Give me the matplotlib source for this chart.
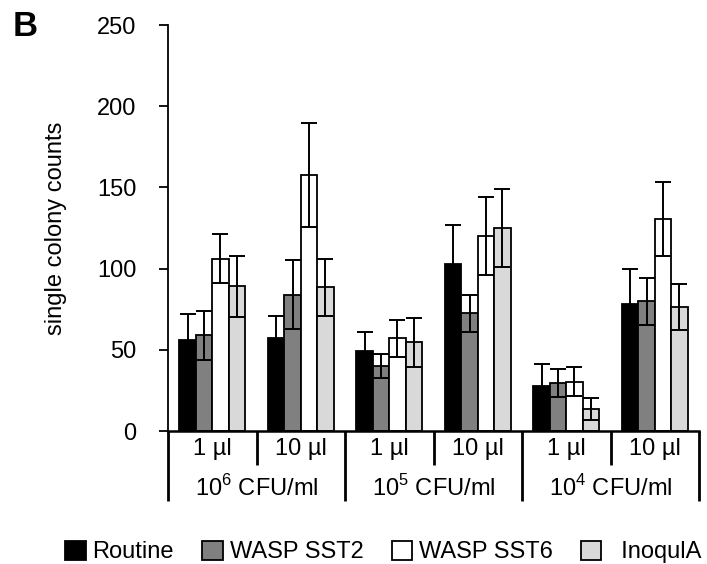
import matplotlib
matplotlib.use("Agg")
import matplotlib.pyplot as plt
import numpy as np
from matplotlib.patches import Patch

plt.rcParams['font.family'] = ['Liberation Sans', 'DejaVu Sans']
plt.rcParams['mathtext.fontset'] = 'custom'
plt.rcParams['mathtext.rm'] = 'Liberation Sans'

series = ["Routine", "WASP SST2", "WASP SST6", "InoqulA"]
colors = ["#000000", "#808080", "#ffffff", "#d9d9d9"]
volumes = ["1 µl", "10 µl", "1 µl", "10 µl", "1 µl", "10 µl"]
concentrations = [r"10$^6$ CFU/ml", r"10$^5$ CFU/ml", r"10$^4$ CFU/ml"]

routine = [56, 57, 49.5, 103, 27.7, 78]
routine_err = [16, 14, 11.5, 24, 13.3, 22]
sst2 = [59, 84, 40, 72.5, 29.3, 80]
sst2_err = [15, 21, 7.5, 11.5, 8.6, 14.5]
sst6 = [106, 157.5, 57, 120, 30.4, 130.5]
sst6_err = [15, 32, 11.5, 24, 8.8, 23]
inoqula = [89, 88.5, 54.5, 125, 13.5, 76.5]
inoqula_err = [19, 17.5, 15, 24, 6.6, 14]

values = [routine, sst2, sst6, inoqula]
errors = [routine_err, sst2_err, sst6_err, inoqula_err]

fig = plt.figure(figsize=(7.07, 5.64), dpi=100)
ax = fig.add_axes([168/707, 1-431/564, (699-168)/707, (431-25)/564])

x = np.arange(len(volumes))
w = 0.186
for i, (vals, errs, c) in enumerate(zip(values, errors, colors)):
    pos = x + (i - 1.5) * w
    ax.bar(pos, vals, width=w, color=c, edgecolor="black", linewidth=1.3, zorder=2)
    ax.errorbar(pos, vals, yerr=errs, fmt="none", ecolor="black", elinewidth=1.4,
                capsize=5.6, capthick=1.4, zorder=3)

ax.set_xlim(-0.5, len(volumes) - 0.5)
ax.set_ylim(0, 250)
ax.set_yticks([0, 50, 100, 150, 200, 250])
ax.tick_params(axis='y', labelsize=17, length=6.5, width=1.3, pad=16, direction='out')
ax.set_xticks([])
for s in ["top", "right"]:
    ax.spines[s].set_visible(False)
ax.spines["left"].set_linewidth(1.3)
ax.spines["bottom"].set_linewidth(1.8)

ax.set_ylabel("single colony counts", fontsize=17)
ax.yaxis.set_label_coords((67-168)/531, 0.5)

# category table below axis
trans = ax.get_xaxis_transform()
y_inner = (431-465)/406
y_outer = (431-501)/406
for k in range(len(volumes) + 1):
    xp = k - 0.5
    yb = y_outer if k % 2 == 0 else y_inner
    ax.plot([xp, xp], [0, yb], transform=trans, color="black", lw=2, clip_on=False,
            solid_capstyle='butt')
for k, v in enumerate(volumes):
    ax.text(k, (431-449)/406, v, transform=trans, ha="center", va="center", fontsize=17)
for j, ctext in enumerate(concentrations):
    ax.text(2*j + 0.5, (431-488)/406, ctext, transform=trans, ha="center", va="center",
            fontsize=17)

fig.text(13/707, 1-26/564, "B", fontsize=25, fontweight="bold", ha="left", va="center")

# legend
handles = [Patch(facecolor=c, edgecolor="black", linewidth=1.3) for c in colors]
labels = [series[0], series[1], series[2], "  " + series[3]]
fig.legend(handles, labels, loc="center", bbox_to_anchor=(0.5 + 30/707, 1-552/564), ncol=4,
           frameon=False, fontsize=17, handlelength=0.85, handleheight=0.85,
           handletextpad=0.3, columnspacing=1.2, borderaxespad=0)

fig.savefig("out.png", dpi=100)
